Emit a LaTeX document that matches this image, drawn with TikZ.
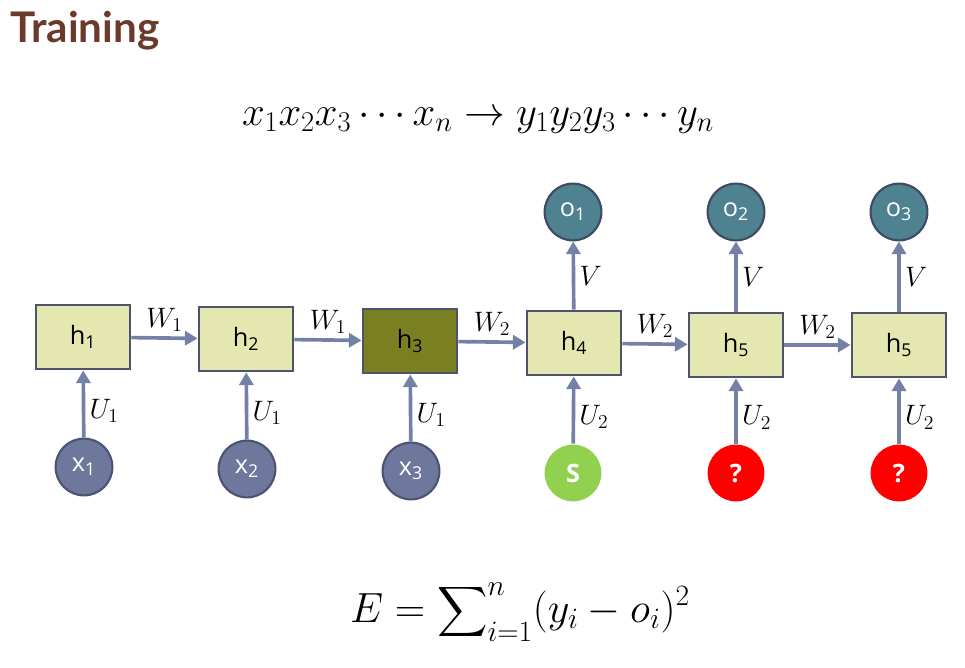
\documentclass[tikz,border=0pt]{standalone}
\usepackage{fix-cm}
\usepackage{amsmath}
\usepackage{fontspec}
\setsansfont{Open Sans}
\newfontfamily\titlefont{Lato}
\usetikzlibrary{arrows.meta}
\definecolor{titlec}{HTML}{6B3A2A}
\definecolor{boxfill}{HTML}{E4E8B0}
\definecolor{boxdark}{HTML}{7A7F22}
\definecolor{boxline}{HTML}{50536E}
\definecolor{xfill}{HTML}{6E789C}
\definecolor{xline}{HTML}{4C5474}
\definecolor{ofill}{HTML}{4F8290}
\definecolor{oline}{HTML}{3E4A62}
\definecolor{sfill}{HTML}{92D050}
\definecolor{arrowc}{HTML}{7580A6}
\begin{document}
\begin{tikzpicture}[x=0.025cm,y=-0.025cm,
  hbox/.style={draw=boxline,line width=2pt,fill=boxfill,minimum width=2.35cm,minimum height=1.6cm,inner sep=0pt,font=\sffamily\fontsize{18}{21}\selectfont},
  ball/.style={circle,line width=1.5pt,minimum size=1.42cm,inner sep=0pt,text=white,font=\sffamily\fontsize{18}{21}\selectfont},
  link/.style={draw=arrowc,line width=2.6pt,-{Triangle[length=9pt,width=10pt]}},
  lab/.style={font=\fontsize{20}{24}\selectfont,inner sep=3pt}]
\useasboundingbox (0,0) rectangle (965,668);
% title and sequence
\node[anchor=base west,text=titlec,font=\titlefont\bfseries\fontsize{30}{36}\selectfont,inner sep=0pt] (title) at (10,43) {Training};
\node[font=\fontsize{29}{34}\selectfont] (seq) at (478,120) {$x_1x_2x_3\cdots x_n \rightarrow y_1y_2y_3\cdots y_n$};
% hidden states
\node[hbox] (h1) at (83,337) {h\textsubscript{1}};
\node[hbox] (h2) at (246,339) {h\textsubscript{2}};
\node[hbox,fill=boxdark] (h3) at (410,341) {h\textsubscript{3}};
\node[hbox] (h4) at (574,343) {h\textsubscript{4}};
\node[hbox] (h5) at (736,345) {h\textsubscript{5}};
\node[hbox] (h6) at (899,345) {h\textsubscript{5}};
% inputs
\node[ball,draw=xline,fill=xfill] (x1) at (84,467) {x\textsubscript{1}};
\node[ball,draw=xline,fill=xfill] (x2) at (247,469) {x\textsubscript{2}};
\node[ball,draw=xline,fill=xfill] (x3) at (411,471) {x\textsubscript{3}};
\node[ball,fill=sfill] (s) at (573,473) {\bfseries S};
\node[ball,fill=red] (q1) at (736,473) {\bfseries ?};
\node[ball,fill=red] (q2) at (899,473) {\bfseries ?};
% outputs
\node[ball,draw=oline,fill=ofill] (o1) at (573,212) {o\textsubscript{1}};
\node[ball,draw=oline,fill=ofill] (o2) at (736,212) {o\textsubscript{2}};
\node[ball,draw=oline,fill=ofill] (o3) at (899,212) {o\textsubscript{3}};
% recurrent links
\draw[link] (h1) -- node[lab,above] {$W_1$} (h2);
\draw[link] (h2) -- node[lab,above] {$W_1$} (h3);
\draw[link] (h3) -- node[lab,above] {$W_2$} (h4);
\draw[link] (h4) -- node[lab,above] {$W_2$} (h5);
\draw[link] (h5) -- node[lab,above] {$W_2$} (h6);
% input links
\draw[link] (x1) -- node[lab,right,pos=0.4] {$U_1$} (h1);
\draw[link] (x2) -- node[lab,right,pos=0.4] {$U_1$} (h2);
\draw[link] (x3) -- node[lab,right,pos=0.4] {$U_1$} (h3);
\draw[link] (s) -- node[lab,right,pos=0.4] {$U_2$} (h4);
\draw[link] (q1) -- node[lab,right,pos=0.4] {$U_2$} (h5);
\draw[link] (q2) -- node[lab,right,pos=0.4] {$U_2$} (h6);
% output links
\draw[link] (h4) -- node[lab,right] {$V$} (o1);
\draw[link] (h5) -- node[lab,right] {$V$} (o2);
\draw[link] (h6) -- node[lab,right] {$V$} (o3);
% error
\node[font=\fontsize{30}{36}\selectfont] (err) at (520,612) {$E=\displaystyle\sum\nolimits_{i=1}^{n}(y_i-o_i)^2$};
\end{tikzpicture}
\end{document}
